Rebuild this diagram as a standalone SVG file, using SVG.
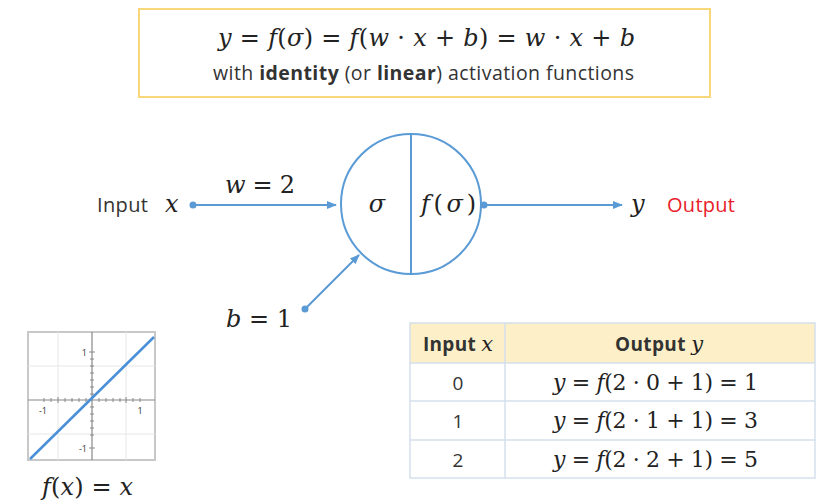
<svg xmlns="http://www.w3.org/2000/svg" width="825" height="500" viewBox="0 0 825 500">
<defs>
<style>
.m{font-family:"DejaVu Serif","Liberation Serif",serif;fill:#222;}
.i{font-style:italic;}
.s{font-family:"Open Sans","Noto Sans","Liberation Sans",sans-serif;fill:#333;}
.red{fill:#e8202a;}
.ln{stroke:#5b9bd5;stroke-width:2;fill:none;}
.dot{fill:#5b9bd5;}
.tb{stroke:#d5dfec;stroke-width:1.5;fill:none;}
</style>
<marker id="ar" viewBox="0 0 10 10" refX="9" refY="5" markerWidth="5" markerHeight="5" orient="auto">
<path d="M0,1 L10,5 L0,9 z" fill="#5b9bd5"/>
</marker>
</defs>
<rect width="825" height="500" fill="#fff"/>

<g id="formula">
<rect x="139" y="9" width="571" height="88" fill="#fff" stroke="#f7d77a" stroke-width="2"/>
<text x="218" y="46" class="m" font-size="24" textLength="417" lengthAdjust="spacing"><tspan class="i">y</tspan> = <tspan class="i">f</tspan>(<tspan class="i">σ</tspan>) = <tspan class="i">f</tspan>(<tspan class="i">w</tspan> · <tspan class="i">x</tspan> + <tspan class="i">b</tspan>) = <tspan class="i">w</tspan> · <tspan class="i">x</tspan> + <tspan class="i">b</tspan></text>
<text x="213" y="80" class="s" font-size="19.5" textLength="421" lengthAdjust="spacing">with <tspan font-weight="bold">identity</tspan> (or <tspan font-weight="bold">linear</tspan>) activation functions</text>
</g>

<g id="connectors">
<line x1="193" y1="205" x2="336" y2="205" class="ln" marker-end="url(#ar)"/>
<circle cx="193" cy="205" r="3.5" class="dot"/>
<line x1="305" y1="309" x2="359" y2="255" class="ln" marker-end="url(#ar)"/>
<circle cx="305" cy="309" r="3.5" class="dot"/>
<line x1="484" y1="205" x2="622" y2="205" class="ln" marker-end="url(#ar)"/>
<circle cx="484" cy="205" r="3.5" class="dot"/>
</g>

<g id="input">
<text x="97" y="212" class="s" font-size="20" textLength="51" lengthAdjust="spacing">Input</text>
<text x="165" y="212" class="m i" font-size="24">x</text>
</g>
<g id="weight">
<text x="225" y="193" class="m" font-size="24" textLength="70" lengthAdjust="spacing"><tspan class="i">w</tspan> = 2</text>
</g>
<g id="bias">
<text x="226" y="327" class="m" font-size="24" textLength="66" lengthAdjust="spacing"><tspan class="i">b</tspan> = 1</text>
</g>

<g id="neuron">
<circle cx="411" cy="204" r="70" class="ln"/>
<line x1="411" y1="134" x2="411" y2="274" class="ln"/>
<text x="377" y="212" text-anchor="middle" class="m i" font-size="24">σ</text>
<text x="421" y="212" class="m" font-size="24" textLength="55" lengthAdjust="spacing"><tspan class="i">f</tspan>(<tspan class="i">σ</tspan>)</text>
</g>

<g id="output">
<text x="631" y="212" class="m i" font-size="24">y</text>
<text x="667" y="212" class="s red" font-size="20" textLength="68" lengthAdjust="spacing">Output</text>
</g>

<g id="graph">
<rect x="28" y="332" width="127" height="128" fill="#fff" stroke="#c8c8c8" stroke-width="2"/>
<g stroke="#e6e6e6" stroke-width="1">
<line x1="28" y1="366" x2="155" y2="366"/><line x1="28" y1="434" x2="155" y2="434"/>
<line x1="58" y1="332" x2="58" y2="460"/><line x1="126" y1="332" x2="126" y2="460"/>
</g>
<line x1="28" y1="400" x2="155" y2="400" stroke="#888" stroke-width="1.2"/>
<line x1="92" y1="332" x2="92" y2="460" stroke="#888" stroke-width="1.2"/>
<g stroke="#888" stroke-width="1">
<line x1="44" y1="398" x2="44" y2="402"/><line x1="51" y1="398" x2="51" y2="402"/><line x1="58" y1="397" x2="58" y2="403"/><line x1="65" y1="398" x2="65" y2="402"/><line x1="72" y1="398" x2="72" y2="402"/><line x1="79" y1="398" x2="79" y2="402"/><line x1="86" y1="398" x2="86" y2="402"/>
<line x1="99" y1="398" x2="99" y2="402"/><line x1="106" y1="398" x2="106" y2="402"/><line x1="113" y1="398" x2="113" y2="402"/><line x1="120" y1="398" x2="120" y2="402"/><line x1="126" y1="397" x2="126" y2="403"/><line x1="133" y1="398" x2="133" y2="402"/><line x1="140" y1="398" x2="140" y2="402"/>
<line x1="89" y1="352" x2="95" y2="352"/><line x1="90" y1="359" x2="94" y2="359"/><line x1="90" y1="366" x2="94" y2="366"/><line x1="90" y1="373" x2="94" y2="373"/><line x1="90" y1="380" x2="94" y2="380"/><line x1="90" y1="387" x2="94" y2="387"/><line x1="90" y1="394" x2="94" y2="394"/>
<line x1="90" y1="407" x2="94" y2="407"/><line x1="90" y1="414" x2="94" y2="414"/><line x1="90" y1="421" x2="94" y2="421"/><line x1="90" y1="428" x2="94" y2="428"/><line x1="90" y1="435" x2="94" y2="435"/><line x1="89" y1="448" x2="95" y2="448"/>
</g>
<g class="s" font-size="9">
<text x="87" y="356" text-anchor="end">1</text>
<text x="87" y="452" text-anchor="end">-1</text>
<text x="43" y="414" text-anchor="middle">-1</text>
<text x="140" y="414" text-anchor="middle">1</text>
</g>
<line x1="30" y1="459" x2="154" y2="337" stroke="#4a90d9" stroke-width="2.5"/>
<text x="42" y="495" class="m" font-size="24" textLength="91" lengthAdjust="spacing"><tspan class="i">f</tspan>(<tspan class="i">x</tspan>) = <tspan class="i">x</tspan></text>
</g>

<g id="table">
<rect x="410" y="323" width="405" height="40" fill="#fdf0c8"/>
<rect x="410" y="323" width="405" height="155" class="tb"/>
<line x1="410" y1="363" x2="815" y2="363" class="tb"/>
<line x1="410" y1="401" x2="815" y2="401" class="tb"/>
<line x1="410" y1="440" x2="815" y2="440" class="tb"/>
<line x1="505" y1="323" x2="505" y2="478" class="tb"/>
<text x="423" y="351" class="s" font-size="19" font-weight="bold" textLength="70" lengthAdjust="spacing">Input <tspan class="m i" font-weight="normal" font-size="21">x</tspan></text>
<text x="615" y="351" class="s" font-size="19" font-weight="bold" textLength="88" lengthAdjust="spacing">Output <tspan class="m i" font-weight="normal" font-size="21">y</tspan></text>
<text x="458" y="390" text-anchor="middle" class="s" font-size="19">0</text>
<text x="458" y="428" text-anchor="middle" class="s" font-size="19">1</text>
<text x="458" y="467" text-anchor="middle" class="s" font-size="19">2</text>
<text x="553" y="390" class="m" font-size="22" textLength="205" lengthAdjust="spacing"><tspan class="i">y</tspan> = <tspan class="i">f</tspan>(2 · 0 + 1) = 1</text>
<text x="553" y="428" class="m" font-size="22" textLength="205" lengthAdjust="spacing"><tspan class="i">y</tspan> = <tspan class="i">f</tspan>(2 · 1 + 1) = 3</text>
<text x="553" y="467" class="m" font-size="22" textLength="205" lengthAdjust="spacing"><tspan class="i">y</tspan> = <tspan class="i">f</tspan>(2 · 2 + 1) = 5</text>
</g>
</svg>
